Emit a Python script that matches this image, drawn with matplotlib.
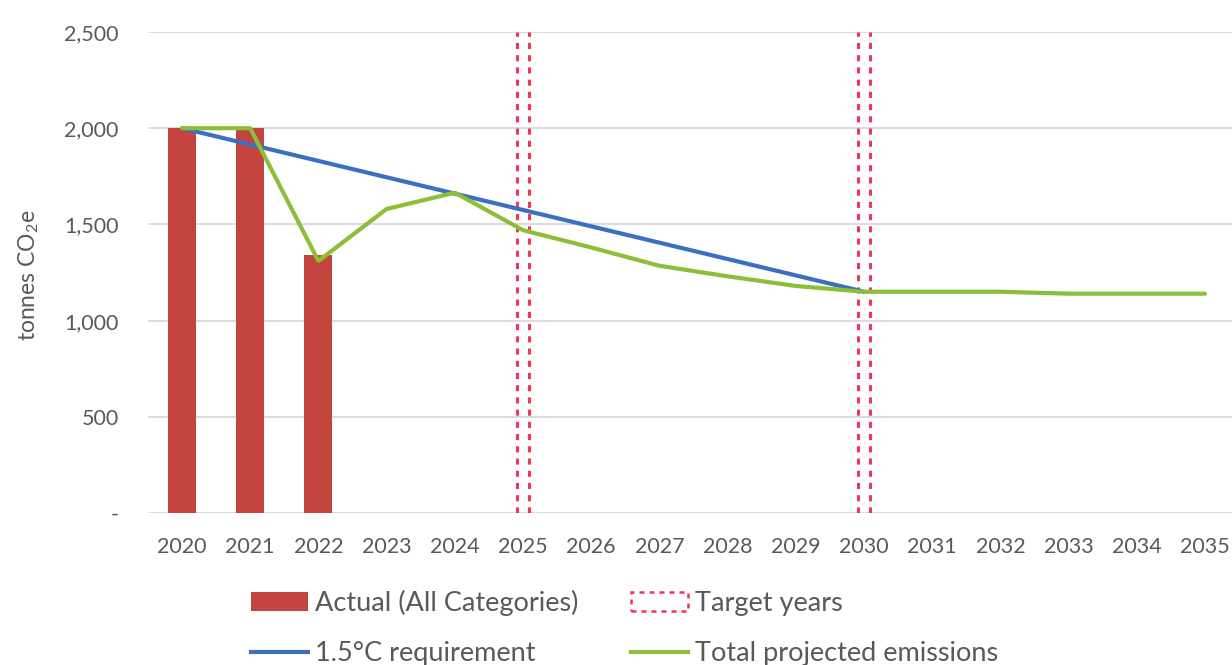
import matplotlib
matplotlib.use("Agg")
import matplotlib.pyplot as plt
from matplotlib.patches import Patch
from matplotlib.lines import Line2D
from matplotlib.legend import Legend

plt.rcParams["font.family"] = ["Lato", "DejaVu Sans"]
plt.rcParams["mathtext.default"] = "regular"

# --- data ---
years = list(range(2020, 2036))
actual_years = [2020, 2021, 2022]
actual = [2000, 2000, 1340]
target_years = [2025, 2030]
target_top = 2500
req_years = list(range(2020, 2031))
requirement = [2000, 1915, 1830, 1745, 1660, 1575, 1490, 1405, 1320, 1235, 1150]
projected = [2000, 2000, 1310, 1580, 1665, 1470, 1380, 1285, 1230, 1180, 1150,
             1150, 1150, 1140, 1140, 1140]
yticks = [0, 500, 1000, 1500, 2000, 2500]
ytick_labels = ["-", "500", "1,000", "1,500", "2,000", "2,500"]

RED = "#C4443F"
BLUE = "#3C6FC0"
GREEN = "#8DBE3A"
TARGET = "#F2365A"
GREY_TXT = "#595959"
DOTS = (0, (2.0, 2.0))

W, H = 1232, 665
fig = plt.figure(figsize=(W / 100, H / 100), dpi=100)
# category axis runs slightly past the right edge of the canvas
step = 68.2
ax = fig.add_axes([(182 - step / 2) / W, (H - 513) / H, 16 * step / W, 481 / H])

idx = {y: i for i, y in enumerate(years)}

ax.bar([idx[y] for y in actual_years], actual, width=0.41, color=RED, zorder=2)

# target years: pair of dotted verticals around each year
for y in target_years:
    for off in (-0.095, 0.095):
        ax.vlines(idx[y] + off, 0, target_top, color=TARGET, lw=2.2,
                  linestyle=DOTS, zorder=3)

ax.plot([idx[y] for y in req_years], requirement, color=BLUE, lw=3, zorder=4,
        solid_capstyle="round")
ax.plot([idx[y] for y in years], projected, color=GREEN, lw=3, zorder=5,
        solid_capstyle="round")

ax.set_xlim(-0.5, len(years) - 0.5)
ax.set_ylim(0, 2500)
ax.set_xticks(range(len(years)))
ax.set_xticklabels([str(y) for y in years])
ax.set_yticks(yticks)
ax.set_yticklabels(ytick_labels)
ax.tick_params(axis="x", length=0, pad=17, labelsize=15.5, labelcolor=GREY_TXT)
ax.tick_params(axis="y", length=0, pad=21, labelsize=15.5, labelcolor=GREY_TXT)
ax.grid(axis="y", color="#D9D9D9", lw=1.3, zorder=0)
for s in ax.spines.values():
    s.set_visible(False)

fig.text(29 / W, 1 - 275 / H, "tonnes CO$_2$e", rotation=90, ha="center",
         va="center", fontsize=16.5, color=GREY_TXT)

# legend entries placed one by one
entries = [
    (Patch(facecolor=RED), "Actual (All Categories)", 251, 603),
    (Patch(facecolor="none", edgecolor=TARGET, linestyle=DOTS, lw=1.8),
     "Target years", 631, 603),
    (Line2D([], [], color=BLUE, lw=3), "1.5\u00b0C requirement", 251, 654),
    (Line2D([], [], color=GREEN, lw=3), "Total projected emissions", 631, 654),
]
for handle, label, px, py in entries:
    leg = Legend(fig, [handle], [label], loc="center left",
                 bbox_to_anchor=(px / W, 1 - py / H), frameon=False,
                 borderpad=0, borderaxespad=0, handlelength=2.1,
                 handletextpad=0.26, fontsize=19.5, labelcolor=GREY_TXT)
    fig.add_artist(leg)

fig.savefig("out.png", dpi=100, facecolor="white")
